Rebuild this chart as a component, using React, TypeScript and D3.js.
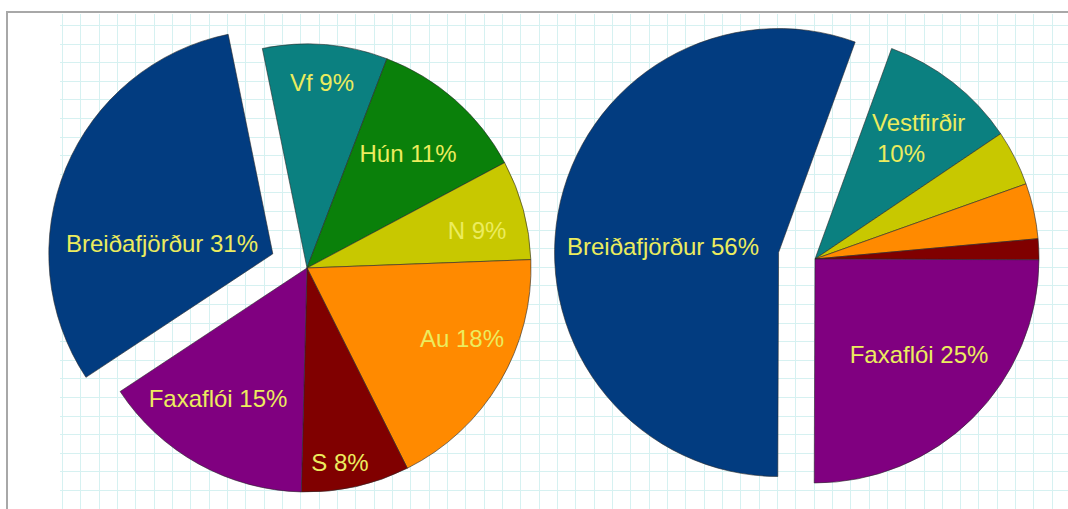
import React from 'react';
import * as d3 from 'd3';

// Data
const categories = ["Vestfirðir", "Húnaflói", "Norðurland", "Austurland", "Suðurland", "Faxaflói", "Breiðafjörður"];
const colors = ["#0b8080", "#0a800a", "#c8c800", "#ff8a00", "#800000", "#800080", "#023c80"];
const valuesLeft = [9, 11.4, 7.2, 18.2, 7.8, 15.3, 31.1];
const valuesRight = [10, 0, 4, 4, 1.5, 25, 55.5];
const labelsLeft = [["Vf 9%"], ["Hún 11%"], ["N 9%"], ["Au 18%"], ["S 8%"], ["Faxaflói 15%"], ["Breiðafjörður 31%"]];
const labelsRight = [["Vestfirðir", "10%"], [], [], [], [], ["Faxaflói 25%"], ["Breiðafjörður 56%"]];
const explodedCategory = "Breiðafjörður";

// Layout (not data)
const W = 1068, H = 509;
const EXPLODE = 37;
const pies = [
  { cx: 307, cy: 268, r: 224, start: -11.5, values: valuesLeft, labels: labelsLeft,
    pos: [[15, -177, 'middle'], [101, -106, 'middle'], [170, -29, 'middle'], [155, 79, 'middle'], [33, 203, 'middle'], [-89, 139, 'middle'], [-145, -16, 'middle']] },
  { cx: 815, cy: 259, r: 224, start: 20, values: valuesRight, labels: labelsRight,
    pos: [[57, -128, 'start'], [0, 0, 'middle'], [0, 0, 'middle'], [0, 0, 'middle'], [0, 0, 'middle'], [104, 104, 'middle'], [-152, -4, 'middle']] },
];

export default function App() {
  const xs = d3.range(62, W, 18.33);
  const ys = d3.range(25, H, 18.6);
  return (
    <svg width={W} height={H} style={{ position: 'absolute', left: 0, top: 0, background: '#fff' }}
      fontFamily="'Liberation Sans', Arial, sans-serif">
      <rect x={0} y={0} width={W} height={H} fill="#fff" />
      <g stroke="#d6f1f1" strokeWidth={1}>
        {xs.map((x, i) => <line key={'x' + i} x1={Math.round(x) + 0.5} x2={Math.round(x) + 0.5} y1={14} y2={H} />)}
        {ys.map((y, i) => <line key={'y' + i} x1={60} x2={W} y1={Math.round(y) + 0.5} y2={Math.round(y) + 0.5} />)}
      </g>
      <line x1={7} x2={7} y1={12} y2={H} stroke="#a8a8a8" strokeWidth={2} />
      <line x1={6} x2={W} y1={12} y2={12} stroke="#a8a8a8" strokeWidth={2} />
      {pies.map((p, pi) => {
        const arc = d3.arc<any>().innerRadius(0).outerRadius(p.r);
        const pie = d3.pie<number>().sort(null)
          .startAngle(p.start * Math.PI / 180)
          .endAngle(p.start * Math.PI / 180 + 2 * Math.PI);
        const arcs = pie(p.values);
        return (
          <g key={pi} transform={`translate(${p.cx},${p.cy})`}>
            {arcs.map((a, i) => {
              if (a.value === 0) return null;
              const mid = (a.startAngle + a.endAngle) / 2;
              const off = categories[i] === explodedCategory ? EXPLODE : 0;
              const dx = Math.sin(mid) * off, dy = -Math.cos(mid) * off;
              return (
                <path key={i} d={arc(a) as string} fill={colors[i]} transform={`translate(${dx},${dy})`}
                  stroke="#2a2a2a" strokeWidth={0.6} strokeLinejoin="round" />
              );
            })}
            {arcs.map((a, i) => {
              const lines = p.labels[i];
              if (!lines || lines.length === 0) return null;
              const [lx, ly, anchor] = p.pos[i] as [number, number, string];
              return (
                <text key={'t' + i} x={lx} y={ly} fontSize={24} fill="#ecec5e" textAnchor={anchor as any}>
                  {lines.map((l, j) => <tspan key={j} x={lx + (j > 0 && anchor === 'start' ? 5 : 0)} dy={j === 0 ? 0 : 31}>{l}</tspan>)}
                </text>
              );
            })}
          </g>
        );
      })}
    </svg>
  );
}
